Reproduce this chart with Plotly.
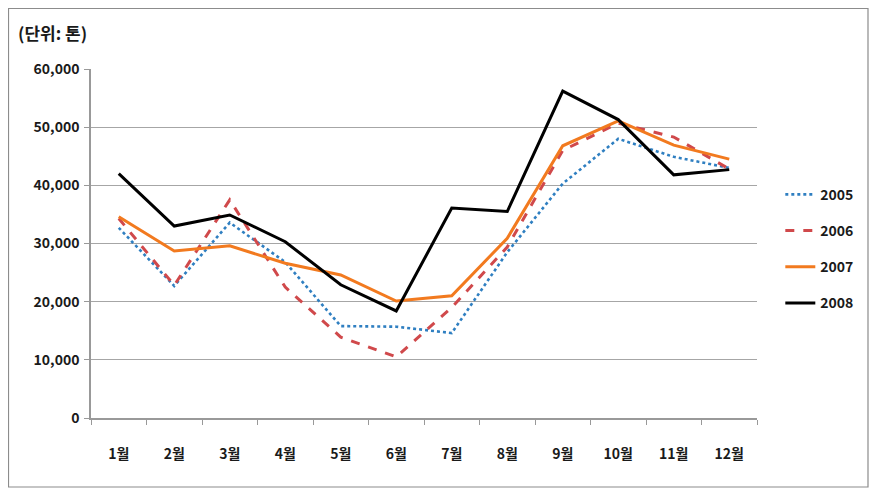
import plotly.graph_objects as go

months = ["1월", "2월", "3월", "4월", "5월", "6월", "7월", "8월", "9월", "10월", "11월", "12월"]
y2005 = [32700, 22700, 33600, 26800, 15800, 15700, 14600, 28500, 40300, 48000, 44900, 43000]
y2006 = [34300, 22800, 37500, 22500, 13900, 10500, 19000, 29400, 46000, 50700, 48300, 42800]
y2007 = [34600, 28700, 29600, 26600, 24600, 20100, 21000, 30900, 46800, 51100, 46900, 44500]
y2008 = [42000, 33000, 34900, 30300, 22900, 18400, 36100, 35500, 56200, 51300, 41800, 42700]
series_names = ["2005", "2006", "2007", "2008"]
y_ticks = [0, 10000, 20000, 30000, 40000, 50000, 60000]

styles = [
    dict(color="#2f7fc1", width=2.6, dash="dot"),
    dict(color="#d0494b", width=3, dash="dash"),
    dict(color="#f27a1f", width=3, dash="solid"),
    dict(color="#000000", width=3, dash="solid"),
]

FONT = "Noto Sans CJK KR"
fig = go.Figure()
for name, ys, st in zip(series_names, [y2005, y2006, y2007, y2008], styles):
    fig.add_trace(go.Scatter(x=months, y=ys, mode="lines", name=name,
                             line=st, legendgroup=name))

# page body has an 8px margin, so the figure starts at (8, 8) on screen
fig.update_layout(
    width=869, height=481,
    margin=dict(l=83, r=120, t=61, b=71),
    paper_bgcolor="white", plot_bgcolor="white",
    font=dict(family=FONT, size=14, color="#1a1a1a"),
    showlegend=True,
    legend=dict(x=1.035, y=0.485, xanchor="left", yanchor="middle",
                font=dict(family=FONT, size=14, color="#1a1a1a", weight="bold"),
                tracegroupgap=15, bgcolor="rgba(0,0,0,0)"),
    xaxis=dict(type="category", tickson="boundaries", ticks="outside", ticklen=5,
               tickcolor="#999", showline=True, linecolor="#999", linewidth=1.5,
               showgrid=False, tickfont=dict(family=FONT, size=14, weight="bold"),
               range=[-0.5, 11.5], ticklabelstandoff=22),
    yaxis=dict(range=[0, 60000], tickvals=y_ticks, tickformat=",", ticks="outside",
               ticklen=5, tickcolor="#999", showline=True, linecolor="#999", linewidth=1.5,
               showgrid=True, gridcolor="#a6a6a6", gridwidth=1.3, zeroline=False,
               tickfont=dict(family=FONT, size=14, weight="bold"), ticklabelstandoff=2),
    annotations=[dict(text="(단위: 톤)", xref="paper", yref="paper",
                      x=(16 - 91) / 666, y=(418 - 33) / 349, xanchor="left", yanchor="middle",
                      showarrow=False, font=dict(family=FONT, size=17, weight="bold", color="#1a1a1a"))],
    shapes=[dict(type="rect", xref="paper", yref="paper",
                 x0=(8.5 - 91) / 666, x1=(868 - 91) / 666,
                 y0=(418 - 487) / 349, y1=(418 - 8.5) / 349,
                 line=dict(color="#8c8c8c", width=1.2), fillcolor="rgba(0,0,0,0)", layer="below")],
)

fig.write_html("out.html")
